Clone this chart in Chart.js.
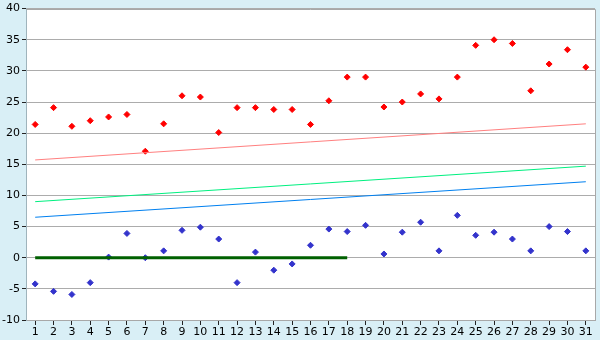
<!DOCTYPE html>
<html>
<head>
<meta charset="utf-8">
<script src="https://cdn.jsdelivr.net/npm/chart.js@4/dist/chart.umd.min.js"></script>
<style>
  html, body { margin: 0; padding: 0; background: #d9eff6; }
  #wrap { width: 600px; height: 340px; }
</style>
</head>
<body>
<div id="wrap"><canvas id="myChart" width="600" height="340"></canvas></div>
<script>
var days = [];
for (var d = 1; d <= 31; d++) days.push(String(d));

var highTemps = [21.4, 24.1, 21.1, 22.0, 22.6, 23.0, 17.1, 21.5, 26.0, 25.8,
                 20.1, 24.1, 24.1, 23.8, 23.8, 21.4, 25.2, 29.0, 29.0, 24.2,
                 25.0, 26.3, 25.5, 29.0, 34.1, 35.0, 34.4, 26.8, 31.1, 33.4, 30.6];
var lowTemps = [-4.2, -5.4, -5.9, -4.0, 0.1, 3.9, 0.0, 1.1, 4.4, 4.9,
                3.0, -4.0, 0.9, -2.0, -1.0, 2.0, 4.6, 4.2, 5.2, 0.6,
                4.1, 5.7, 1.1, 6.8, 3.6, 4.1, 3.0, 1.1, 5.0, 4.2, 1.1];
// trend lines: only start and end values (day 1 and day 31)
var highTrendEnds = [15.7, 21.5];
var meanTrendEnds = [9.0, 14.7];
var lowTrendEnds = [6.5, 12.2];
// zero line drawn over days 1..18
var zeroLineDays = 18;

function endsOnly(ends) {
    var arr = days.map(function () { return null; });
    arr[0] = ends[0];
    arr[arr.length - 1] = ends[1];
    return arr;
}
var zeroLine = days.map(function (d, i) { return i < zeroLineDays ? 0 : null; });

var plotBg = {
    id: 'plotBg',
    beforeDraw: function (chart) {
        var a = chart.chartArea, c = chart.ctx;
        c.save();
        c.fillStyle = '#ffffff';
        c.fillRect(a.left, a.top, a.right - a.left, a.bottom - a.top);
        c.restore();
    },
    afterDatasetsDraw: function (chart) {
        var a = chart.chartArea, c = chart.ctx;
        var r = Math.round(a.right) + 0.5, t = Math.round(a.top) + 0.5;
        c.save();
        c.strokeStyle = '#a8a8a8';
        c.lineWidth = 1;
        c.beginPath();
        c.moveTo(a.left, t);
        c.lineTo(r, t);
        c.lineTo(r, a.bottom);
        c.stroke();
        c.restore();
    }
};

var ctx = document.getElementById('myChart').getContext('2d');
var myChart = new Chart(ctx, {
    type: 'line',
    data: {
        labels: days,
        datasets: [
            { data: endsOnly(highTrendEnds), borderColor: '#ff8080', borderWidth: 1, pointRadius: 0, spanGaps: true },
            { data: endsOnly(meanTrendEnds), borderColor: '#00f080', borderWidth: 1, pointRadius: 0, spanGaps: true },
            { data: endsOnly(lowTrendEnds), borderColor: '#0080f0', borderWidth: 1, pointRadius: 0, spanGaps: true },
            { data: zeroLine, borderColor: '#006000', borderWidth: 3, pointRadius: 0, spanGaps: false },
            { data: highTemps, showLine: false, pointStyle: 'rectRot', pointRadius: 3,
              backgroundColor: '#ff0000', borderColor: '#ff0000', borderWidth: 1 },
            { data: lowTemps, showLine: false, pointStyle: 'rectRot', pointRadius: 3,
              backgroundColor: '#3333cc', borderColor: '#3333cc', borderWidth: 1 }
        ]
    },
    options: {
        responsive: false,
        animation: false,
        layout: { padding: { top: 5, right: 5, left: 0, bottom: 0 } },
        plugins: { legend: { display: false }, tooltip: { enabled: false } },
        scales: {
            x: {
                offset: true,
                grid: { offset: false, drawOnChartArea: false, drawTicks: true, tickLength: 5, color: '#222222' },
                border: { color: '#a8a8a8' },
                ticks: { color: '#000000', font: { family: 'DejaVu Sans', size: 11 }, padding: 1, maxRotation: 0, autoSkip: false },
                afterFit: function (s) { s.height = 20; }
            },
            y: {
                min: -10,
                max: 40,
                grid: { color: '#acacac', tickColor: '#222222', tickLength: 4 },
                border: { color: '#9fb4bc' },
                ticks: { stepSize: 5, color: '#000000', font: { family: 'DejaVu Sans', size: 11 }, padding: 2 },
                afterFit: function (s) { s.width = 26; }
            }
        }
    },
    plugins: [plotBg]
});
</script>
</body>
</html>
